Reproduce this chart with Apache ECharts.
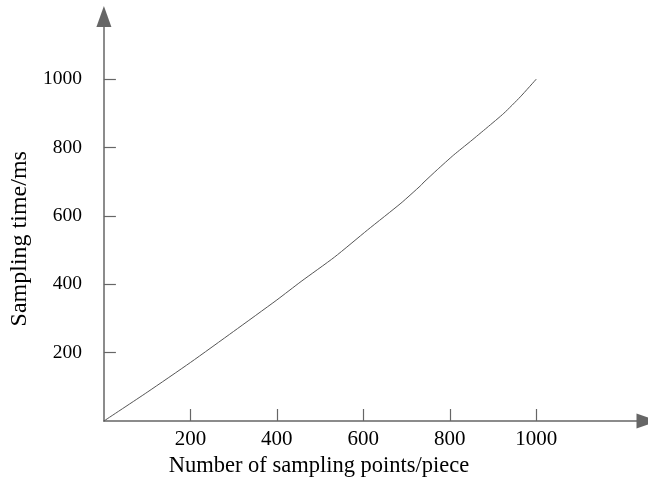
<!DOCTYPE html>
<html>
<head>
  <meta charset="utf-8">
  <title>Sampling time</title>
  <script src="https://cdn.jsdelivr.net/npm/echarts@6/dist/echarts.min.js"></script>
  <style>
    html, body { margin: 0; padding: 0; background: #fff; }
    #chart { width: 648px; height: 484px; }
  </style>
</head>
<body>
<div id="chart"></div>
<script type="text/javascript">
// sample count (x) and sampling time in ms (y)
var pointCounts = [0, 100, 200, 300, 400, 456, 533, 610, 687, 733, 738, 771, 809, 848, 886, 925, 963, 1000];
var samplingTimes = [0, 84, 171, 262, 354, 408, 479, 559, 637, 689, 696, 735, 778, 818, 858, 900, 948, 1000];
var xTicks = [200, 400, 600, 800, 1000];
var yTicks = [200, 400, 600, 800, 1000];

var chart = echarts.init(document.getElementById('chart'));

var lineData = [];
for (var i = 0; i < pointCounts.length; i++) {
  lineData.push([pointCounts[i], samplingTimes[i]]);
}

var font = 'Liberation Serif';
var axisColor = '#666';

var option = {
  animation: false,
  grid: { left: 102, right: 1, top: 16.5, bottom: 63, containLabel: false },
  xAxis: {
    type: 'value',
    min: 0,
    max: 1256,
    name: 'Number of sampling points/piece',
    nameLocation: 'middle',
    nameGap: 34,
    nameTextStyle: { fontFamily: font, fontSize: 22.5, color: '#000', padding: [0, 113, 0, 0] },
    axisLine: {
      show: true,
      symbol: ['none', 'triangle'],
      symbolSize: [15, 21],
      lineStyle: { color: axisColor, width: 1.5 }
    },
    axisTick: { show: true, inside: true, length: 12, customValues: xTicks,
      lineStyle: { color: axisColor, width: 1.2 } },
    axisLabel: { customValues: xTicks, margin: 8, fontFamily: font, fontSize: 21, color: '#000',
      formatter: function (v) { return String(v); } },
    splitLine: { show: false }
  },
  yAxis: {
    type: 'value',
    min: 0,
    max: 1183,
    name: 'Sampling time/ms',
    nameLocation: 'middle',
    nameGap: 69,
    nameTextStyle: { fontFamily: font, fontSize: 24, color: '#000', padding: [0, 40, 0, 0] },
    axisLine: {
      show: true,
      symbol: ['none', 'triangle'],
      symbolSize: [15, 21],
      lineStyle: { color: axisColor, width: 1.5 }
    },
    axisTick: { show: true, inside: true, length: 12, customValues: yTicks,
      lineStyle: { color: axisColor, width: 1.2 } },
    axisLabel: { customValues: yTicks, margin: 22, fontFamily: font, fontSize: 19.5, color: '#000',
      formatter: function (v) { return String(v); } },
    splitLine: { show: false }
  },
  series: [{
    type: 'line',
    data: lineData,
    smooth: 0.2,
    showSymbol: false,
    lineStyle: { color: '#555', width: 1 }
  }]
};

chart.setOption(option);
</script>
</body>
</html>
